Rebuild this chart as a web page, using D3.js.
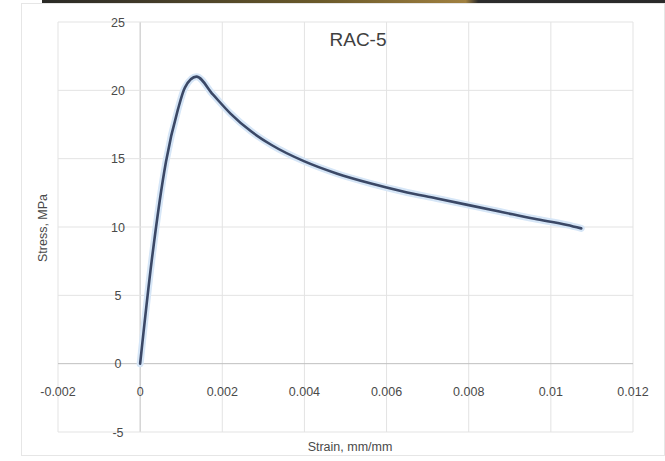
<!DOCTYPE html>
<html>
<head>
<meta charset="utf-8">
<script src="https://cdn.jsdelivr.net/npm/d3@7"></script>
<style>
  body { margin: 0; background: #fff; }
  text { font-family: "Liberation Sans", Arial, sans-serif; fill: #4a4a4a; }
</style>
</head>
<body>
<div id="chart"></div>
<script>
  const title = "RAC-5";
  const xTitle = "Strain, mm/mm";
  const yTitle = "Stress, MPa";
  const xTicks = [-0.002, 0, 0.002, 0.004, 0.006, 0.008, 0.01, 0.012];
  const yTicks = [-5, 0, 5, 10, 15, 20, 25];
  // strain / stress
  const strain = [0, 0.00028, 0.00063, 0.00092, 0.00109, 0.00137, 0.00177, 0.0022, 0.0027,
    0.0032, 0.004, 0.0048, 0.0056, 0.0064, 0.0072, 0.008, 0.0088, 0.0096, 0.0104, 0.01074];
  const stress = [0, 7.5, 14.8, 18.6, 20.2, 21.0, 19.7, 18.3, 17.0,
    16.0, 14.8, 13.9, 13.2, 12.6, 12.1, 11.6, 11.1, 10.6, 10.15, 9.9];

  const W = 665, H = 461;
  const svg = d3.select("#chart").append("svg")
    .attr("width", W).attr("height", H);

  // chart area
  svg.append("rect")
    .attr("x", 21.5).attr("y", 3.5)
    .attr("width", W - 22).attr("height", 452)
    .attr("fill", "#fff").attr("stroke", "#e6e6e6");

  // dark strip along the top edge
  const grad = svg.append("defs").append("linearGradient").attr("id", "strip");
  grad.append("stop").attr("offset", "0%").attr("stop-color", "#2a2a26");
  grad.append("stop").attr("offset", "12%").attr("stop-color", "#3a3528");
  grad.append("stop").attr("offset", "45%").attr("stop-color", "#6b5a2a");
  grad.append("stop").attr("offset", "68%").attr("stop-color", "#a08040");
  grad.append("stop").attr("offset", "70%").attr("stop-color", "#2c2c2c");
  grad.append("stop").attr("offset", "100%").attr("stop-color", "#2a2a2a");
  svg.append("rect").attr("x", 42).attr("y", 0).attr("width", W - 42).attr("height", 3)
    .attr("fill", "url(#strip)");

  const x = d3.scaleLinear().domain([-0.002, 0.012]).range([58, 633]);
  const y = d3.scaleLinear().domain([-5, 25]).range([432, 22]);

  // gridlines
  svg.append("g").selectAll("line").data(xTicks).enter().append("line")
    .attr("x1", d => x(d)).attr("x2", d => x(d))
    .attr("y1", y(25)).attr("y2", y(-5))
    .attr("stroke", d => d === 0 ? "#bfbfbf" : "#e3e3e3").attr("stroke-width", 1);
  svg.append("g").selectAll("line").data(yTicks).enter().append("line")
    .attr("x1", x(-0.002)).attr("x2", x(0.012))
    .attr("y1", d => y(d)).attr("y2", d => y(d))
    .attr("stroke", d => d === 0 ? "#bfbfbf" : "#e3e3e3").attr("stroke-width", 1);

  // tick labels next to the axes
  svg.append("g").selectAll("text").data(xTicks).enter().append("text")
    .attr("x", d => x(d)).attr("y", y(0) + 32)
    .attr("text-anchor", "middle").attr("font-size", 12.5)
    .text(d => d === 0 ? "0" : (d < 0 ? "-" : "") + Math.abs(d).toString());
  svg.append("g").selectAll("text").data(yTicks).enter().append("text")
    .attr("x", 118).attr("y", d => y(d) + 4.5)
    .attr("text-anchor", "middle").attr("font-size", 12.5)
    .text(d => d);

  // curve
  const pts = strain.map((s, i) => [s, stress[i]]);
  const line = d3.line().x(d => x(d[0])).y(d => y(d[1])).curve(d3.curveMonotoneX);
  svg.append("path").datum(pts).attr("d", line)
    .attr("fill", "none").attr("stroke", "#d6e6f7").attr("stroke-width", 7)
    .attr("stroke-linejoin", "round").attr("stroke-linecap", "round");
  svg.append("path").datum(pts).attr("d", line)
    .attr("fill", "none").attr("stroke", "#3b4866").attr("stroke-width", 2.6)
    .attr("stroke-linejoin", "round").attr("stroke-linecap", "round");

  // titles
  svg.append("text").attr("x", 358).attr("y", 46)
    .attr("text-anchor", "middle").attr("font-size", 19).style("fill", "#404040")
    .text(title);
  svg.append("text").attr("x", 350).attr("y", 451)
    .attr("text-anchor", "middle").attr("font-size", 12.5)
    .text(xTitle);
  svg.append("text")
    .attr("transform", "translate(47," + 228 + ") rotate(-90)")
    .attr("text-anchor", "middle").attr("font-size", 12.5)
    .text(yTitle);
</script>
</body>
</html>
